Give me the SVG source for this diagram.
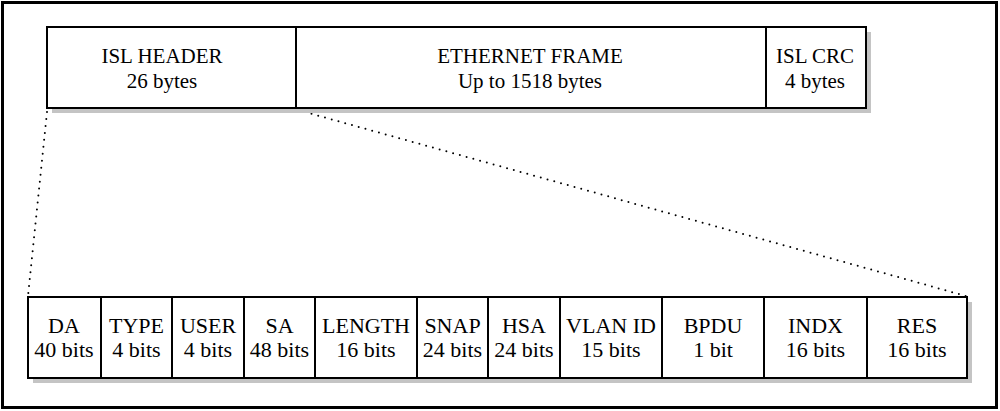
<svg xmlns="http://www.w3.org/2000/svg" width="1000" height="411" viewBox="0 0 1000 411">
<defs>
<style>
.box{fill:#fff;stroke:#000;stroke-width:2}
.sh{fill:#c4c4c4}
.div{stroke:#000;stroke-width:2}
.t{font-family:"Liberation Serif","Times New Roman",serif;fill:#000;text-anchor:middle}
.top{font-size:21px}
.bot{font-size:22px}
.dot{fill:none;stroke:#000;stroke-width:2;stroke-linecap:round;stroke-dasharray:0 7}
</style>
</defs>
<rect x="0" y="0" width="1000" height="411" fill="#fff"/>
<rect x="2.5" y="2.5" width="994" height="405" fill="none" stroke="#000" stroke-width="3"/>
<g id="connectors">
<line class="dot" x1="47" y1="112" x2="28" y2="296"/>
<line class="dot" x1="298" y1="110" x2="966" y2="296"/>
</g>
<g id="top-frame">
<rect class="sh" x="52" y="32" width="819" height="81"/>
<rect class="box" x="47" y="27" width="819" height="81"/>
</g>
<g id="isl-header">
<text class="t top" x="162" y="63">ISL HEADER</text>
<text class="t top" x="162" y="88">26 bytes</text>
</g>
<g id="ethernet-frame">
<line class="div" x1="296" y1="27" x2="296" y2="108"/>
<text class="t top" x="530" y="63">ETHERNET FRAME</text>
<text class="t top" x="530" y="88">Up to 1518 bytes</text>
</g>
<g id="isl-crc">
<line class="div" x1="766" y1="27" x2="766" y2="108"/>
<text class="t top" x="815" y="63">ISL CRC</text>
<text class="t top" x="815" y="88">4 bytes</text>
</g>
<g id="bottom-frame">
<rect class="sh" x="33" y="302" width="939" height="81"/>
<rect class="box" x="28" y="297" width="939" height="81"/>
</g>
<g id="da">
<text class="t bot" x="64" y="333">DA</text>
<text class="t bot" x="64" y="357">40 bits</text>
</g>
<g id="type">
<line class="div" x1="101" y1="297" x2="101" y2="378"/>
<text class="t bot" x="136.5" y="333">TYPE</text>
<text class="t bot" x="136.5" y="357">4 bits</text>
</g>
<g id="user">
<line class="div" x1="172" y1="297" x2="172" y2="378"/>
<text class="t bot" x="208" y="333">USER</text>
<text class="t bot" x="208" y="357">4 bits</text>
</g>
<g id="sa">
<line class="div" x1="244" y1="297" x2="244" y2="378"/>
<text class="t bot" x="279.5" y="333">SA</text>
<text class="t bot" x="279.5" y="357">48 bits</text>
</g>
<g id="length">
<line class="div" x1="315" y1="297" x2="315" y2="378"/>
<text class="t bot" x="366" y="333">LENGTH</text>
<text class="t bot" x="366" y="357">16 bits</text>
</g>
<g id="snap">
<line class="div" x1="417" y1="297" x2="417" y2="378"/>
<text class="t bot" x="452.5" y="333">SNAP</text>
<text class="t bot" x="452.5" y="357">24 bits</text>
</g>
<g id="hsa">
<line class="div" x1="488" y1="297" x2="488" y2="378"/>
<text class="t bot" x="524" y="333">HSA</text>
<text class="t bot" x="524" y="357">24 bits</text>
</g>
<g id="vlan-id">
<line class="div" x1="560" y1="297" x2="560" y2="378"/>
<text class="t bot" x="611" y="333">VLAN ID</text>
<text class="t bot" x="611" y="357">15 bits</text>
</g>
<g id="bpdu">
<line class="div" x1="662" y1="297" x2="662" y2="378"/>
<text class="t bot" x="713" y="333">BPDU</text>
<text class="t bot" x="713" y="357">1 bit</text>
</g>
<g id="indx">
<line class="div" x1="764" y1="297" x2="764" y2="378"/>
<text class="t bot" x="815.5" y="333">INDX</text>
<text class="t bot" x="815.5" y="357">16 bits</text>
</g>
<g id="res">
<line class="div" x1="867" y1="297" x2="867" y2="378"/>
<text class="t bot" x="917" y="333">RES</text>
<text class="t bot" x="917" y="357">16 bits</text>
</g>
</svg>
